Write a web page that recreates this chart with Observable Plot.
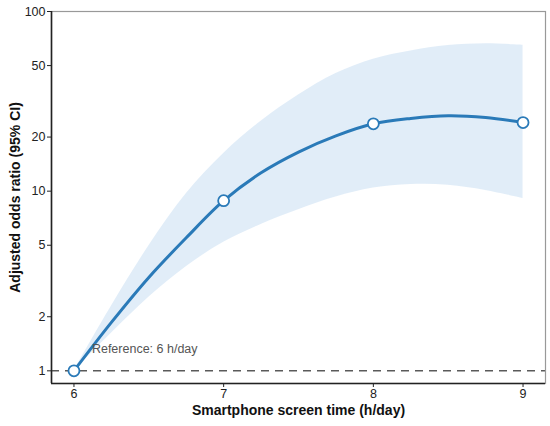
<!DOCTYPE html>
<html>
<head>
<meta charset="utf-8">
<script src="https://cdn.jsdelivr.net/npm/d3@7"></script>
<script src="https://cdn.jsdelivr.net/npm/@observablehq/plot@0.6"></script>
<style>
  html, body { margin: 0; padding: 0; background: #fff; }
  #chart svg { display: block; font-family: "Liberation Sans", Arial, sans-serif; }
</style>
</head>
<body>
<div id="chart"></div>
<script>
// Estimated (knot) points
const pointHours = [6, 7, 8, 9];
const pointOR = [1, 8.85, 23.7, 24.1];

// Smooth curve and 95% CI
const curveHours = [6, 6.25, 6.5, 6.75, 7, 7.25, 7.5, 7.75, 8, 8.25, 8.5, 8.75, 9];
const curveOR    = [1, 1.86, 3.31, 5.5, 8.85, 12.65, 16.5, 20.3, 23.7, 25.4, 26.3, 25.7, 24.1];
const curveUpper = [1, 2.29, 4.95, 9.66, 16.2, 24.5, 34.3, 45.2, 54.3, 60.3, 64.6, 66.1, 64.9];
const curveLower = [1, 1.62, 2.57, 3.80, 5.19, 6.53, 7.89, 9.27, 10.4, 10.9, 10.8, 10.1, 9.1];

const xTicks = [6, 7, 8, 9];
const yTicks = [1, 2, 5, 10, 20, 50, 100];
const referenceLabel = "Reference: 6 h/day";
const referenceOR = 1;
const xTitle = "Smartphone screen time (h/day)";
const yTitle = "Adjusted odds ratio (95% CI)";

const curve = curveHours.map((h, i) => ({h, or: curveOR[i], lo: curveLower[i], hi: curveUpper[i]}));
const pts = pointHours.map((h, i) => ({h, or: pointOR[i]}));

const chart = Plot.plot({
  width: 550,
  height: 426,
  marginLeft: 51,
  marginRight: 5,
  marginTop: 11,
  marginBottom: 43,
  style: {fontFamily: "Liberation Sans, Arial, sans-serif", fontSize: "12.5px", color: "#222", background: "#fff"},
  x: {domain: [5.85, 9.15], label: null},
  y: {type: "log", domain: [0.85, 100], label: null},
  marks: [
    Plot.areaY(curve, {x: "h", y1: "lo", y2: "hi", fill: "#deebf7", fillOpacity: 0.9, curve: "catmull-rom"}),
    Plot.ruleY([referenceOR], {stroke: "#5a5a5a", strokeWidth: 1.5, strokeDasharray: "8,6"}),
    Plot.lineY(curve, {x: "h", y: "or", stroke: "#2a7ab8", strokeWidth: 3, curve: "catmull-rom"}),
    Plot.dot(pts, {x: "h", y: "or", r: 5.5, fill: "white", stroke: "#2a7ab8", strokeWidth: 1.8}),
    Plot.text([referenceLabel], {x: 6.12, y: 1.33, text: d => d, textAnchor: "start", fill: "#555", fontSize: 12.5}),
    Plot.frame({stroke: "#999", strokeWidth: 1.2}),
    Plot.axisX({ticks: xTicks, tickFormat: d3.format("d"), tickSize: 4, tickPadding: 2, fontSize: 12.5, stroke: "#222", fill: "#222"}),
    Plot.axisY({ticks: yTicks, tickFormat: d3.format("d"), tickSize: 4, tickPadding: 2, fontSize: 12.5, stroke: "#222", fill: "#222"}),
    Plot.ruleX([5.85], {stroke: "#222", strokeWidth: 1.6}),
    Plot.ruleY([0.85], {stroke: "#222", strokeWidth: 1.6}),
    Plot.text([xTitle], {text: d => d, frameAnchor: "bottom", dy: 31, fontSize: 14, fontWeight: "bold", fill: "#111"}),
    Plot.text([yTitle], {text: d => d, frameAnchor: "left", textAnchor: "middle", dx: -36, rotate: -90, fontSize: 14, fontWeight: "bold", fill: "#111"})
  ]
});
document.getElementById("chart").appendChild(chart);
</script>
</body>
</html>
